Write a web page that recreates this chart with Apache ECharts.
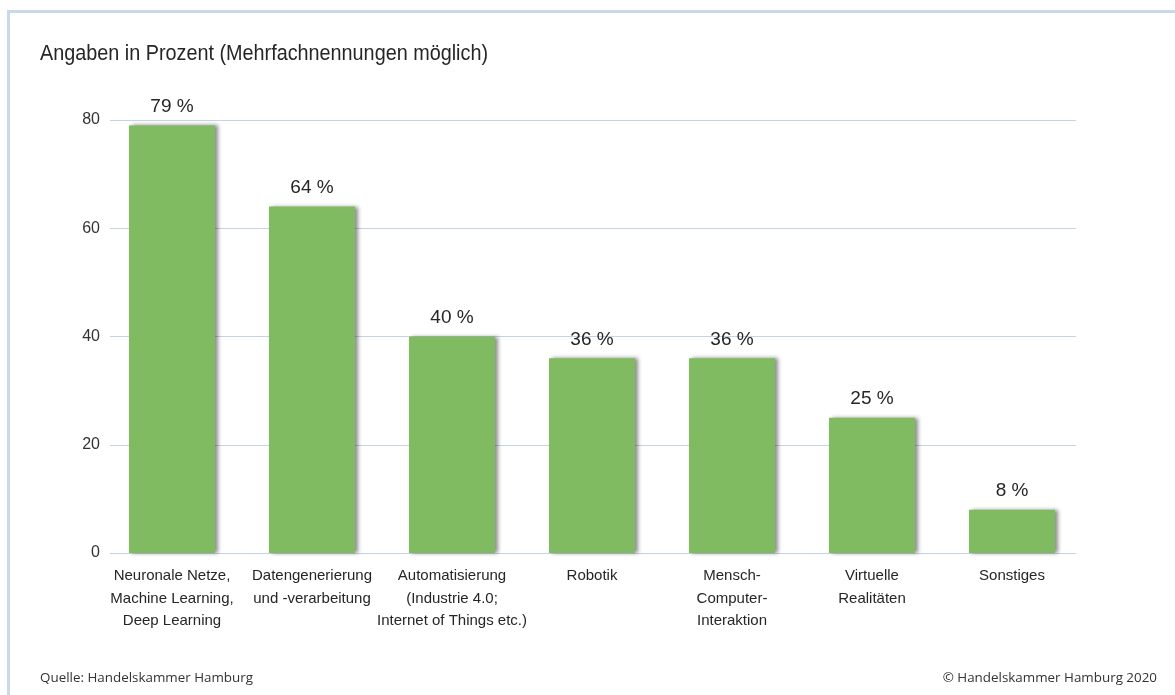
<!DOCTYPE html>
<html>
<head>
<meta charset="utf-8">
<script src="https://cdn.jsdelivr.net/npm/echarts@6/dist/echarts.min.js"></script>
<style>
  html, body { margin: 0; padding: 0; background: #ffffff; }
  #chart { width: 1175px; height: 695px; }
</style>
</head>
<body>
<div id="chart"></div>
<script>
// Survey: areas of artificial intelligence (multiple answers, percent)
const categories = [
  'Neuronale Netze,\nMachine Learning,\nDeep Learning',
  'Datengenerierung\nund -verarbeitung',
  'Automatisierung\n(Industrie 4.0;\nInternet of Things etc.)',
  'Robotik',
  'Mensch-\nComputer-\nInteraktion',
  'Virtuelle\nRealitäten',
  'Sonstiges'
];
const shares = [79, 64, 40, 36, 36, 25, 8];
const yTicks = [0, 20, 40, 60, 80];

const titleText = 'Angaben in Prozent (Mehrfachnennungen möglich)';
const sourceText = 'Quelle: Handelskammer Hamburg';
const copyrightText = '© Handelskammer Hamburg 2020';

const sans = '"Liberation Sans", Arial, sans-serif';
const textColor = '#262626';
const gridColor = '#c6d3e6';

const chart = echarts.init(document.getElementById('chart'), null, { renderer: 'canvas' });

chart.setOption({
  backgroundColor: '#ffffff',
  animation: false,
  grid: [
    // grid for the horizontal rules and y labels
    { left: 110, right: 99, top: 120, bottom: 142 },
    // grid for the bars
    { left: 102, right: 93, top: 120, bottom: 142 }
  ],
  xAxis: [
    { gridIndex: 0, type: 'value', show: false, min: 0, max: 1 },
    {
      gridIndex: 1,
      type: 'category',
      data: categories,
      axisLine: { show: false },
      axisTick: { show: false },
      axisLabel: {
        interval: 0,
        margin: 12,
        fontFamily: sans,
        fontSize: 15,
        lineHeight: 22.5,
        color: textColor,
        align: 'center'
      }
    }
  ],
  yAxis: [
    {
      gridIndex: 0,
      type: 'value',
      min: yTicks[0],
      max: yTicks[yTicks.length - 1],
      interval: yTicks[1] - yTicks[0],
      axisLine: { show: false },
      axisTick: { show: false },
      splitLine: { show: true, lineStyle: { color: gridColor, width: 1 } },
      axisLabel: {
        margin: 10,
        fontFamily: sans,
        fontSize: 16,
        color: '#333333'
      }
    },
    {
      gridIndex: 1,
      type: 'value',
      min: yTicks[0],
      max: yTicks[yTicks.length - 1],
      show: false,
      splitLine: { show: false }
    }
  ],
  series: [
    {
      type: 'bar',
      xAxisIndex: 1,
      yAxisIndex: 1,
      data: shares,
      barWidth: 86,
      itemStyle: {
        color: '#80bb61',
        shadowColor: 'rgba(0,0,0,0.45)',
        shadowBlur: 4,
        shadowOffsetX: 3,
        shadowOffsetY: 0
      },
      label: {
        show: true,
        position: 'top',
        distance: 9,
        fontFamily: sans,
        fontSize: 19,
        color: textColor,
        formatter: (p) => p.value + ' %'
      }
    }
  ],
  graphic: [
    // light blue frame along the top and left edge
    { type: 'rect', left: 7, top: 10, shape: { width: 1168, height: 3 }, style: { fill: '#c9d9e9' }, silent: true },
    { type: 'rect', left: 7, top: 10, shape: { width: 3, height: 685 }, style: { fill: '#c9d9e9' }, silent: true },
    {
      type: 'text', x: 40, y: 54, scaleX: 0.9,
      style: { text: titleText, font: '22px ' + sans, fill: textColor, verticalAlign: 'middle' }
    },
    {
      type: 'text', x: 40, y: 678,
      style: { text: sourceText, font: '13.4px "Open Sans", sans-serif', fill: '#333333', verticalAlign: 'middle' }
    },
    {
      type: 'text', x: 1157, y: 678,
      style: { text: copyrightText, font: '13.4px "Open Sans", sans-serif', fill: '#333333', verticalAlign: 'middle', align: 'right' }
    }
  ]
});
</script>
</body>
</html>
